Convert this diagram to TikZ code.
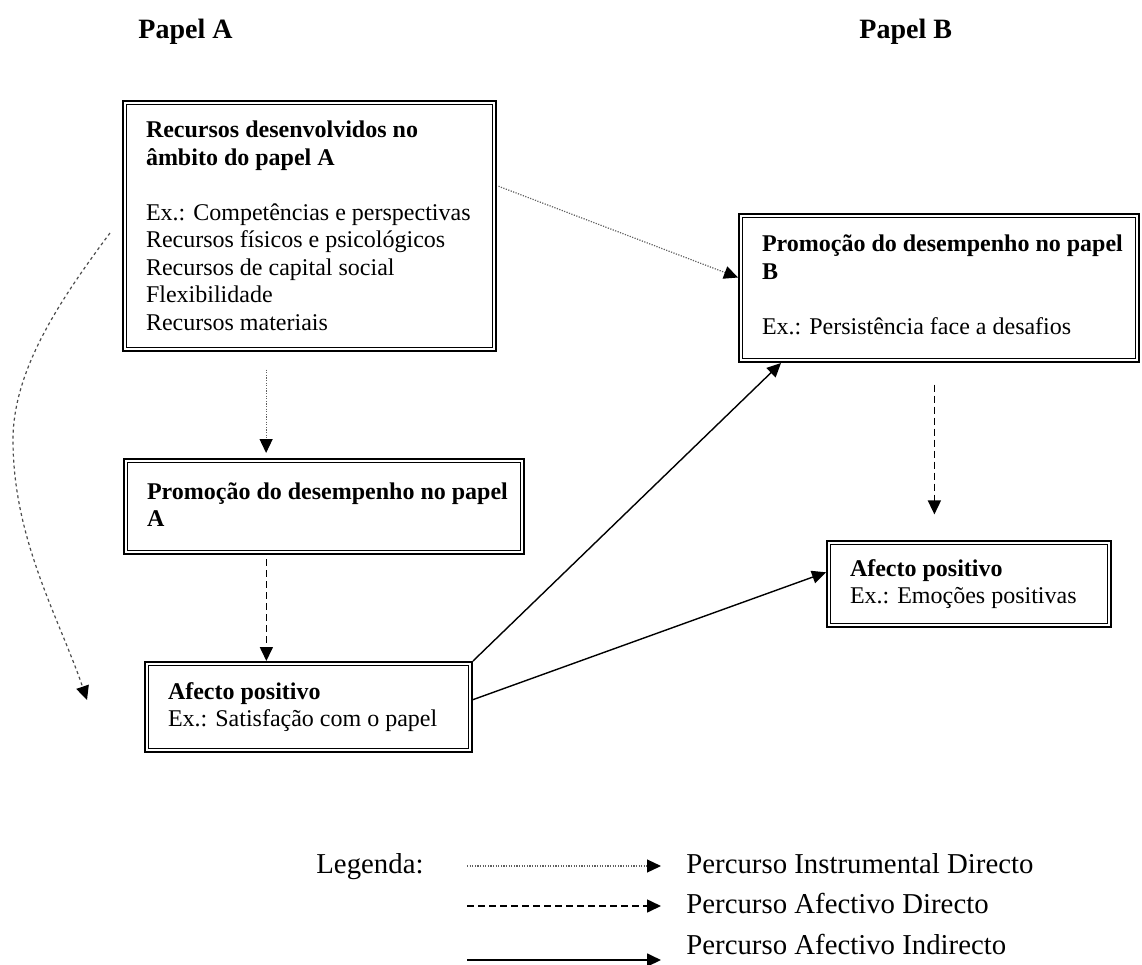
\documentclass[tikz,border=0pt]{standalone}
\usepackage{fontspec}
\setmainfont{Liberation Serif}
\usetikzlibrary{positioning,calc,arrows.meta}

\begin{document}
\begin{tikzpicture}[x=0.5pt, y=-0.5pt,
	frame/.style={draw, line width=1.1pt, inner sep=0pt},
	inframe/.style={draw, line width=0.5pt},
	boxtext/.style={anchor=west, inner sep=0pt, align=left, font=\fontsize{12}{13.75}\selectfont},
	head/.style={anchor=base west, inner sep=0pt, font=\fontsize{14}{16}\selectfont\bfseries},
	legtext/.style={anchor=base west, inner sep=0pt, font=\fontsize{14.4}{16}\selectfont},
	tip/.style={-{Triangle[length=7pt,width=6.5pt,color=black]}},
	instr/.style={tip, gray!75!black, line width=0.6pt, dash pattern=on 0.6pt off 0.7pt},
	afdir/.style={tip, line width=0.8pt, dash pattern=on 3.5pt off 2pt},
	afind/.style={tip, line width=0.7pt},
	curv/.style={tip, gray!60!black, line width=0.6pt, dash pattern=on 1.5pt off 1.5pt}]
			\useasboundingbox (0,0) rectangle (1142,965);
			% headers
			\node [head] (pA) at (138,38) {Papel A};
			\node [head] (pB) at (859,38) {Papel B};
			% frames
			\node [frame, minimum width=186.4pt, minimum height=124.9pt] (b1) at (309.5,226) {};
			\node [frame, minimum width=199.9pt, minimum height=73.9pt] (b2) at (939,288) {};
			\node [frame, minimum width=199.9pt, minimum height=47.4pt] (b3) at (324,506.5) {};
			\node [frame, minimum width=163.4pt, minimum height=44.9pt] (b4) at (308.5,707) {};
			\node [frame, minimum width=141.9pt, minimum height=42.9pt] (b5) at (969,584) {};
			\foreach \b in {b1,b2,b3,b4,b5}
				\draw [inframe] ([shift={(2.3pt,-2.3pt)}]\b.north west) rectangle ([shift={(-2.3pt,2.3pt)}]\b.south east);
			% texts
			\node [boxtext] (t1) at ([xshift=11.8pt]b1.west) {\textbf{Recursos desenvolvidos no}\\
				\textbf{âmbito do papel A}\\[13.75pt]
				Ex.: Competências e perspectivas\\
				Recursos físicos e psicológicos\\
				Recursos de capital social\\
				Flexibilidade\\
				Recursos materiais};
			\node [boxtext] (t2) at ([xshift=11.8pt,yshift=1.5pt]b2.west) {\textbf{Promoção do desempenho no papel}\\
				\textbf{B}\\[13.75pt]
				Ex.: Persistência face a desafios};
			\node [boxtext] (t3) at ([xshift=11.8pt,yshift=1pt]b3.west) {\textbf{Promoção do desempenho no papel}\\
				\textbf{A}};
			\node [boxtext] (t4) at ([xshift=11.8pt]b4.west) {\textbf{Afecto positivo}\\
				Ex.: Satisfação com o papel};
			\node [boxtext] (t5) at ([xshift=11.8pt]b5.west) {\textbf{Afecto positivo}\\
				Ex.: Emoções positivas};
			% connectors
			\coordinate (c13) at ($(b3.north west)!0.356!(b3.north east)$);
			\coordinate (c34) at ($(b4.north west)!0.372!(b4.north east)$);
			\coordinate (c25) at ($(b5.north west)!0.379!(b5.north east)$);
			\draw [instr, shorten <=0.8pt] ($(b1.north east)!0.34!(b1.south east)$) -- ($(b2.north west)!0.43!(b2.south west)$);
			\draw [instr, shorten <=8.8pt, shorten >=2.5pt] (b1.south -| c13) -- (c13);
			\draw [afdir, shorten <=2pt] (b3.south -| c34) -- (c34);
			\draw [afdir, shorten <=10.8pt, shorten >=12.8pt] (b2.south -| c25) -- (c25);
			\draw [afind] (b4.north east) -- ($(b2.south west)!0.107!(b2.south east)$);
			\draw [afind] ($(b4.north east)!0.42!(b4.south east)$) -- ($(b5.north west)!0.367!(b5.south west)$);
			% curved path
			\coordinate (cs) at (110,233);
			\coordinate (cm) at (13,440);
			\coordinate (ce) at (87,700);
			\draw [curv] (cs) .. controls (60,300) and (13,370) .. (cm) .. controls (13,540) and (60,620) .. (ce);
			% legend
			\node [legtext] (leg) at (316,873) {Legenda:};
			\coordinate (l1a) at (467,866);
			\coordinate (l1b) at (661,866);
			\coordinate (l2a) at (467,906);
			\coordinate (l2b) at (661,906);
			\coordinate (l3a) at (467,960);
			\coordinate (l3b) at (661,960);
			\draw [instr] (l1a) -- (l1b);
			\draw [afdir] (l2a) -- (l2b);
			\draw [afind, line width=0.9pt] (l3a) -- (l3b);
			\node [legtext] (lt1) at (686,873) {Percurso Instrumental Directo};
			\node [legtext] (lt2) at (686,913) {Percurso Afectivo Directo};
			\node [legtext] (lt3) at (686,954) {Percurso Afectivo Indirecto};
		\end{tikzpicture}
\end{document}
